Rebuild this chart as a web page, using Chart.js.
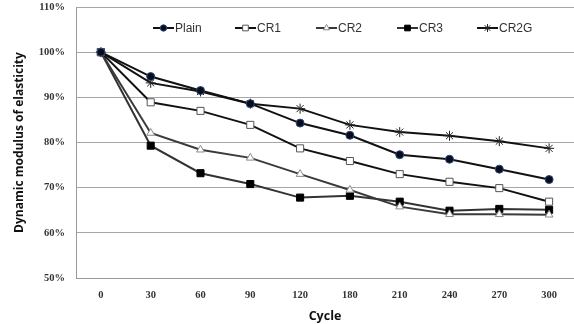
<!DOCTYPE html>
<html><head><meta charset="utf-8">
<script src="https://cdn.jsdelivr.net/npm/chart.js@4/dist/chart.umd.min.js"></script>
<style>html,body{margin:0;padding:0;background:#fff}#wrap{width:574px;height:324px}</style>
</head><body><div id="wrap"><canvas id="c" width="574" height="324"></canvas></div>
<script>
const cycles = ['0','30','60','90','120','180','210','240','270','300'];
const plain = [100, 94.6, 91.5, 88.6, 84.3, 81.6, 77.3, 76.3, 74.1, 71.8];
const cr1   = [100, 88.9, 87.0, 83.9, 78.7, 75.9, 73.0, 71.3, 69.9, 66.9];
const cr2   = [100, 82.1, 78.4, 76.6, 73.0, 69.5, 65.8, 64.1, 64.1, 64.0];
const cr3   = [100, 79.3, 73.2, 70.8, 67.8, 68.2, 66.9, 64.9, 65.3, 65.1];
const cr2g  = [100, 93.2, 91.3, 88.6, 87.5, 83.9, 82.3, 81.5, 80.3, 78.7];
const yTicks = [50, 60, 70, 80, 90, 100, 110];

const datasets = [
  {label:'Plain', data:plain, borderColor:'#111', pointStyle:'circle', pointRadius:4, pointBackgroundColor:'#0b0b1e', pointBorderColor:'#2a4a7a'},
  {label:'CR1', data:cr1, borderColor:'#111', pointStyle:'rect', pointRadius:5, pointBackgroundColor:'#fff', pointBorderColor:'#555'},
  {label:'CR2', data:cr2, borderColor:'#3a3a3a', pointStyle:'triangle', pointRadius:4.5, pointBackgroundColor:'#fff', pointBorderColor:'#888'},
  {label:'CR3', data:cr3, borderColor:'#333', pointStyle:'rect', pointRadius:5, pointBackgroundColor:'#000', pointBorderColor:'#000'},
  {label:'CR2G', data:cr2g, borderColor:'#111', pointStyle:'star', pointRadius:5, pointBackgroundColor:'#fff', pointBorderColor:'#222'}
].map(d => Object.assign({borderWidth:2, pointBorderWidth:1, tension:0, fill:false, clip:false}, d));

const legendPlugin = {
  id:'customLegend',
  afterDraw(chart){
    const ctx = chart.ctx;
    const xs = [153, 235, 316, 397, 477];
    const y = 28;
    ctx.save();
    chart.data.datasets.forEach((ds,i)=>{
      const x0 = xs[i];
      ctx.strokeStyle = ds.borderColor; ctx.lineWidth = 2;
      ctx.beginPath(); ctx.moveTo(x0, y); ctx.lineTo(x0+21, y); ctx.stroke();
      ctx.fillStyle = ds.pointBackgroundColor; ctx.strokeStyle = ds.pointBorderColor; ctx.lineWidth = 1;
      Chart.helpers.drawPoint(ctx, {pointStyle: ds.pointStyle, radius: ds.pointRadius*0.8, borderWidth:1}, x0+10.5, y);
      ctx.fillStyle = '#333';
      ctx.font = '12px "Liberation Sans", Arial, sans-serif';
      ctx.textBaseline = 'middle'; ctx.textAlign = 'left';
      ctx.fillText(ds.label, x0+22, y+1);
    });
    ctx.restore();
  }
};

new Chart(document.getElementById('c'), {
  type:'line',
  data:{labels:cycles, datasets},
  plugins:[legendPlugin],
  options:{
    responsive:false, animation:false,
    layout:{autoPadding:false, padding:{top:7, right:0, left:0, bottom:0}},
    plugins:{legend:{display:false}, tooltip:{enabled:false}},
    scales:{
      x:{
        offset:true,
        grid:{display:false, drawTicks:false},
        border:{display:true, color:'#999'},
        ticks:{padding:11, color:'#333', font:{family:'"Liberation Serif", serif', weight:'bold', size:10.5}},
        title:{display:true, text:'Cycle', color:'#111', padding:{top:4,bottom:0}, font:{family:'"Open Sans", "Liberation Sans", sans-serif', weight:'bold', size:12.5}},
        afterFit(s){ s.height = 46; s.paddingLeft = 0; s.paddingRight = 0; }
      },
      y:{
        min:50, max:110,
        afterBuildTicks(s){ s.ticks = yTicks.map(v=>({value:v})); },
        grid:{color:'#a6a6a6', lineWidth:1, drawTicks:false},
        border:{display:true, color:'#999'},
        ticks:{padding:11, color:'#333', callback:v=>v+'%', font:{family:'"Liberation Serif", serif', weight:'bold', size:10.5}},
        title:{display:true, text:'Dynamic modulus of elasticity', color:'#111', padding:{top:12,bottom:0}, font:{family:'"Open Sans", "Liberation Sans", sans-serif', weight:'bold', size:12}},
        afterFit(s){ s.width = 76; s.paddingTop = 0; s.paddingBottom = 0; }
      }
    }
  }
});
</script></body></html>
